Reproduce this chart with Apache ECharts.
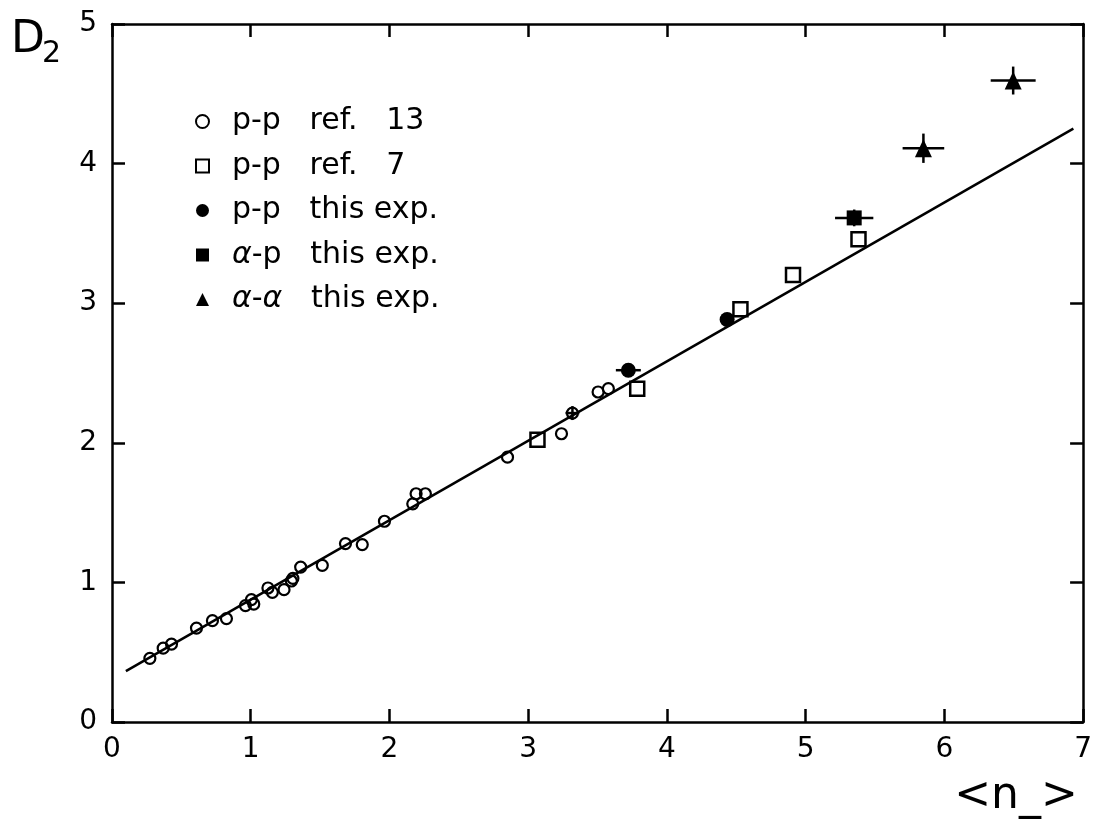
<!DOCTYPE html>
<html>
<head>
<meta charset="utf-8">
<script src="https://cdn.jsdelivr.net/npm/echarts@6/dist/echarts.min.js"></script>
<style>
  html, body { margin: 0; padding: 0; background: #fff; }
  #chart { width: 1095px; height: 825px; }
</style>
</head>
<body>
<div id="chart"></div>
<script>
// p-p ref. 13 (open circles)
const ref13X = [0.273, 0.369, 0.429, 0.609, 0.724, 0.825, 0.962, 1.005, 1.022, 1.124, 1.156, 1.24, 1.293, 1.304, 1.36, 1.516, 1.683, 1.804, 1.964, 2.168, 2.192, 2.259, 2.851, 3.24, 3.319, 3.504, 3.578]
const ref13Y = [0.456, 0.529, 0.558, 0.673, 0.726, 0.741, 0.834, 0.877, 0.845, 0.96, 0.929, 0.948, 1.01, 1.029, 1.11, 1.122, 1.278, 1.271, 1.438, 1.563, 1.635, 1.635, 1.897, 2.065, 2.213, 2.364, 2.388]

// p-p ref. 7 (open squares)
const ref7X = [3.067, 3.786, 4.53, 4.909, 5.381]
const ref7Y = [2.022, 2.388, 2.956, 3.202, 3.458]

// this experiment
const ppX = [3.722, 4.434]
const ppY = [2.52, 2.883]
const apX = [5.35]
const apY = [3.611]
const aaX = [5.849, 6.496]
const aaY = [4.11, 4.595]

// error bars: x, y, dx, dy
const errX = [3.319, 3.722, 5.35, 5.849, 6.496]
const errY = [2.213, 2.52, 3.611, 4.11, 4.595]
const errDX = [0.05, 0.09, 0.138, 0.15, 0.162]
const errDY = [0.05, 0, 0.06, 0.105, 0.1]

// fitted line
const fitX = [0.1, 6.93]
const fitY = [0.365, 4.25]

const xTicks = [0, 1, 2, 3, 4, 5, 6, 7]
const yTicks = [0, 1, 2, 3, 4, 5]

const FONT = 'DejaVu Sans'
const pairs = (xs, ys) => xs.map((x, i) => [x, ys[i]])

const chart = echarts.init(document.getElementById('chart'))

const axisLine = { onZero: false, lineStyle: { color: '#000', width: 2.5 } }
const axisTick = { inside: true, length: 13, lineStyle: { color: '#000', width: 2.5 } }

const baseX = {
  type: 'value',
  min: xTicks[0],
  max: xTicks[xTicks.length - 1],
  interval: 1,
  axisLine: axisLine,
  axisTick: axisTick,
  splitLine: { show: false }
}
const baseY = {
  type: 'value',
  min: yTicks[0],
  max: yTicks[yTicks.length - 1],
  interval: 1,
  axisLine: axisLine,
  axisTick: axisTick,
  splitLine: { show: false }
}

chart.setOption({
  backgroundColor: '#fff',
  animation: false,
  grid: { left: 112, right: 10, top: 24, bottom: 103 },
  xAxis: [
    Object.assign({}, baseX, {
      position: 'bottom',
      axisLabel: { fontSize: 28, color: '#000', fontFamily: FONT, margin: 14 }
    }),
    Object.assign({}, baseX, { position: 'top', axisLabel: { show: false } })
  ],
  yAxis: [
    Object.assign({}, baseY, {
      position: 'left',
      axisLabel: { fontSize: 28, color: '#000', fontFamily: FONT, margin: 15 }
    }),
    Object.assign({}, baseY, { position: 'right', axisLabel: { show: false } })
  ],
  legend: {
    orient: 'vertical',
    left: 195,
    top: 106,
    padding: 0,
    itemWidth: 13,
    itemHeight: 13,
    itemGap: 13.5,
    data: ['p-p   ref.   13', 'p-p   ref.   7', 'p-p   this exp.', 'α-p   this exp.', 'α-α   this exp.'],
    formatter: name => name.replace(/α/g, '{i|α}'),
    textStyle: {
      fontSize: 30,
      lineHeight: 31,
      color: '#000',
      fontFamily: FONT,
      padding: [0, 0, 0, 18],
      rich: { i: { fontSize: 30, fontStyle: 'italic', fontFamily: FONT, color: '#000' } }
    }
  },
  graphic: [
    { type: 'text', x: 11, y: 41, style: { text: 'D', fontSize: 44, fontFamily: FONT, fill: '#000', verticalAlign: 'middle' } },
    { type: 'text', x: 42, y: 54, style: { text: '2', fontSize: 30, fontFamily: FONT, fill: '#000', verticalAlign: 'middle' } },
    { type: 'text', x: 1016, y: 797, style: { text: '<n_>', fontSize: 44, fontFamily: FONT, fill: '#000', align: 'center', verticalAlign: 'middle' } }
  ],
  series: [
    {
      name: 'fit',
      type: 'line',
      data: pairs(fitX, fitY),
      showSymbol: false,
      lineStyle: { color: '#000', width: 2.5 },
      z: 1
    },
    {
      name: 'errors',
      type: 'custom',
      data: errX.map((x, i) => [x, errY[i], errDX[i], errDY[i]]),
      encode: { x: 0, y: 1 },
      renderItem: (params, api) => {
        const x = api.value(0), y = api.value(1), dx = api.value(2), dy = api.value(3)
        const l = api.coord([x - dx, y]), r = api.coord([x + dx, y])
        const t = api.coord([x, y + dy]), b = api.coord([x, y - dy])
        const st = { stroke: '#000', lineWidth: 2.5 }
        return {
          type: 'group',
          children: [
            { type: 'line', shape: { x1: l[0], y1: l[1], x2: r[0], y2: r[1] }, style: st },
            { type: 'line', shape: { x1: t[0], y1: t[1], x2: b[0], y2: b[1] }, style: st }
          ]
        }
      },
      z: 2
    },
    {
      name: 'p-p   ref.   13',
      type: 'scatter',
      data: pairs(ref13X, ref13Y),
      symbol: 'circle',
      symbolSize: 11,
      itemStyle: { color: 'rgba(255,255,255,0)', borderColor: '#000', borderWidth: 2.2, opacity: 1 },
      z: 3
    },
    {
      name: 'p-p   ref.   7',
      type: 'scatter',
      data: pairs(ref7X, ref7Y),
      symbol: 'rect',
      symbolSize: 14,
      itemStyle: { color: 'rgba(255,255,255,0)', borderColor: '#000', borderWidth: 2.5, opacity: 1 },
      z: 3
    },
    {
      name: 'p-p   this exp.',
      type: 'scatter',
      data: pairs(ppX, ppY),
      symbol: 'circle',
      symbolSize: 15,
      itemStyle: { color: '#000', opacity: 1 },
      z: 4
    },
    {
      name: 'α-p   this exp.',
      type: 'scatter',
      data: pairs(apX, apY),
      symbol: 'rect',
      symbolSize: 15,
      itemStyle: { color: '#000', opacity: 1 },
      z: 4
    },
    {
      name: 'α-α   this exp.',
      type: 'scatter',
      data: pairs(aaX, aaY),
      symbol: 'triangle',
      symbolSize: [17, 18],
      itemStyle: { color: '#000', opacity: 1 },
      z: 4
    }
  ]
})
</script>
</body>
</html>
